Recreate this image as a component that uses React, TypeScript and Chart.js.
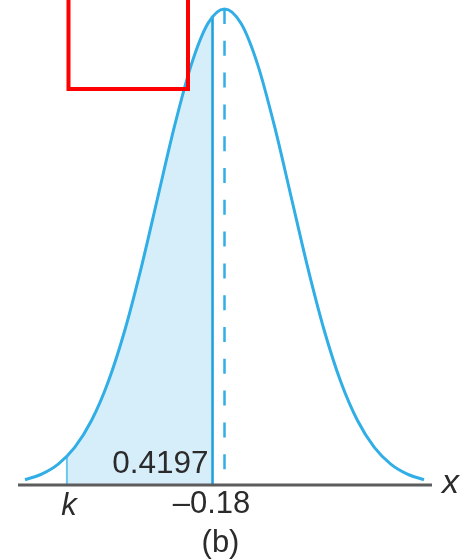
import React, { useEffect, useRef } from "react";
import { Chart, registerables } from "chart.js";

Chart.register(...registerables);

// Standard normal curve, density read at steps of 0.25
const curveX = [-3, -2.75, -2.5, -2.25, -2, -1.75, -1.5, -1.25, -1, -0.75, -0.5, -0.25, 0, 0.25, 0.5, 0.75, 1, 1.25, 1.5, 1.75, 2, 2.25, 2.5, 2.75, 3];
const curveY = [0.0044, 0.0091, 0.0175, 0.0317, 0.054, 0.0863, 0.1295, 0.1826, 0.242, 0.3011, 0.3521, 0.3867, 0.3989, 0.3867, 0.3521, 0.3011, 0.242, 0.1826, 0.1295, 0.0863, 0.054, 0.0317, 0.0175, 0.0091, 0.0044];

// Shaded area between k and -0.18
const shadeX = [-2.37, -2.25, -2, -1.75, -1.5, -1.25, -1, -0.75, -0.5, -0.25, -0.18];
const shadeY = [0.0241, 0.0317, 0.054, 0.0863, 0.1295, 0.1826, 0.242, 0.3011, 0.3521, 0.3867, 0.3925];

const kValue = -2.37;
const kDensity = 0.0241;
const cutValue = -0.18;
const cutDensity = 0.3925;
const meanValue = 0;
const peakDensity = 0.3989;
const areaLabel = "0.4197";
const tickLabels = ["k", "\u20130.18"];
const axisLabel = "x";
const caption = "(b)";
const axisRange = [-3.105, 3.12];

const BLUE = "#30aee5";
const TEXT = "#2b2b2b";

export default function App() {
  const ref = useRef<HTMLCanvasElement | null>(null);

  useEffect(() => {
    if (!ref.current) return;
    const overlay = {
      id: "overlay",
      afterDraw(chart: any) {
        const ctx = chart.ctx;
        const xs = chart.scales.x;
        const ys = chart.scales.y;
        const y0 = ys.getPixelForValue(0);
        ctx.save();
        ctx.fillStyle = TEXT;
        // area label
        ctx.font = "31.5px 'Liberation Sans', Arial, sans-serif";
        ctx.textAlign = "right";
        ctx.textBaseline = "alphabetic";
        ctx.fillText(areaLabel, xs.getPixelForValue(cutValue) - 4, y0 - 12);
        // tick labels
        ctx.textAlign = "center";
        ctx.font = "italic 31px 'Liberation Sans', Arial, sans-serif";
        ctx.fillText(tickLabels[0], xs.getPixelForValue(kValue) + 2, y0 + 30);
        ctx.font = "31px 'Liberation Sans', Arial, sans-serif";
        ctx.fillText(tickLabels[1], xs.getPixelForValue(cutValue) - 1, y0 + 28);
        // caption
        ctx.fillText(caption, xs.getPixelForValue(meanValue) - 4, y0 + 67);
        // axis label
        ctx.textAlign = "left";
        ctx.font = "italic 34px 'Liberation Sans', Arial, sans-serif";
        ctx.fillText(axisLabel, xs.getPixelForValue(axisRange[1]) + 10, y0 + 8);
        // red highlight box
        ctx.strokeStyle = "#ff0000";
        ctx.lineWidth = 4;
        ctx.strokeRect(68.5, -10, 119.5, 99);
        ctx.restore();
      },
    };

    const chart = new Chart(ref.current, {
      type: "line",
      data: {
        datasets: [
          {
            label: "axis",
            data: axisRange.map((x) => ({ x, y: 0 })),
            borderColor: "#5c5c5c",
            borderWidth: 3,
            pointRadius: 0,
            fill: false,
            order: 0,
          },
          {
            label: "curve",
            data: curveX.map((x, i) => ({ x, y: curveY[i] })),
            borderColor: BLUE,
            borderWidth: 3,
            pointRadius: 0,
            cubicInterpolationMode: "monotone",
            fill: false,
            order: 1,
          },
          {
            label: "cut",
            data: [
              { x: cutValue, y: 0 },
              { x: cutValue, y: cutDensity },
            ],
            borderColor: "#1c9fdc",
            borderWidth: 2.5,
            pointRadius: 0,
            fill: false,
            order: 2,
          },
          {
            label: "k",
            data: [
              { x: kValue, y: 0 },
              { x: kValue, y: kDensity },
            ],
            borderColor: "#6cc6ee",
            borderWidth: 2,
            pointRadius: 0,
            fill: false,
            order: 3,
          },
          {
            label: "mean",
            data: [
              { x: meanValue, y: peakDensity },
              { x: meanValue, y: 0 },
            ],
            borderColor: BLUE,
            borderWidth: 2.5,
            borderDash: [15, 16.8],
            pointRadius: 0,
            fill: false,
            order: 4,
          },
          {
            label: "shade",
            data: shadeX.map((x, i) => ({ x, y: shadeY[i] })),
            borderWidth: 0,
            borderColor: "rgba(0,0,0,0)",
            backgroundColor: "#d6eefa",
            pointRadius: 0,
            cubicInterpolationMode: "monotone",
            fill: "origin",
            order: 5,
          },
        ],
      },
      options: {
        animation: false,
        responsive: false,
        devicePixelRatio: 1,
        events: [],
        layout: { padding: 0 },
        plugins: {
          legend: { display: false },
          tooltip: { enabled: false },
          title: { display: false },
        },
        scales: {
          x: { type: "linear", display: false, min: -224.5 / 66.5, max: (470 - 224.5) / 66.5 },
          y: { type: "linear", display: false, min: -(560 - 485) / 1193, max: 0.3989 + 9 / 1193 },
        },
      },
      plugins: [overlay],
    });
    return () => chart.destroy();
  }, []);

  return (
    <div style={{ position: "absolute", left: 0, top: 0, width: 470, height: 560, background: "#fff" }}>
      <canvas ref={ref} width={470} height={560} style={{ display: "block" }} />
    </div>
  );
}
